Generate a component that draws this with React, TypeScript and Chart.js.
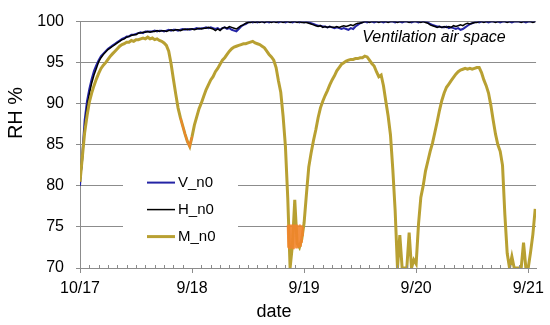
import React, { useEffect, useRef } from "react";
import { Chart, registerables } from "chart.js";

Chart.register(...registerables);

// sampling step of the series, in days (half-hourly readings)
const STEP = 1 / 48;
const X_MAX = 4.07;

const dayLabels = ["10/17", "9/18", "9/19", "9/20", "9/21"];
const yTickValues = [70, 75, 80, 85, 90, 95, 100];
const seriesNames = ["V_n0", "H_n0", "M_n0"];

const V_n0 = [
  80.0, 84.0, 88.0, 90.3, 91.8, 93.0, 94.0, 94.7, 95.3, 95.8,
  96.1, 96.4, 96.7, 96.9, 97.1, 97.3, 97.5, 97.7, 97.9, 98.0,
  98.2, 98.2, 98.4, 98.4, 98.5, 98.6, 98.7, 98.6, 98.8, 98.8,
  98.8, 98.8, 98.9, 98.8, 98.9, 98.9, 98.8, 98.9, 99.0, 98.9,
  99.0, 99.0, 98.9, 99.0, 99.1, 99.0, 99.1, 99.0, 99.1, 99.1,
  99.2, 99.1, 99.2, 99.2, 99.3, 99.2, 99.3, 99.2, 99.1, 99.2,
  99.0, 99.2, 99.3, 99.1, 99.2, 99.0, 98.9, 98.8, 99.1, 99.4,
  99.6, 99.7, 99.9, 100, 99.9, 100, 99.9, 100, 100, 99.9,
  100, 99.9, 100, 100, 100, 99.9, 100, 100, 99.9, 100,
  100, 99.9, 100, 100, 99.9, 100, 99.9, 100, 99.9, 99.8,
  99.7, 99.6, 99.5, 99.5, 99.4, 99.4, 99.3, 99.4, 99.3, 99.2,
  99.3, 99.2, 99.1, 99.2, 99.1, 99.0, 99.2, 99.1, 99.4, 99.6,
  99.8, 99.9, 100, 99.9, 100, 100, 99.9, 100, 100, 100,
  99.9, 100, 100, 100, 100, 99.9, 100, 100, 99.9, 100,
  100, 100, 99.9, 100, 100, 99.9, 100, 100, 100, 99.9,
  99.7, 99.6, 99.5, 99.4, 99.4, 99.3, 99.3, 99.4, 99.2, 99.3,
  99.2, 99.1, 99.2, 99.0, 99.1, 99.3, 99.5, 99.7, 99.8, 99.9,
  100, 99.9, 100, 100, 100, 99.9, 100, 100, 100, 100,
  99.9, 100, 100, 100, 100, 99.9, 100, 100, 100, 100,
  100, 99.9, 100, 100, 100, 100,
];

const H_n0 = [
  80.5, 83.0, 87.0, 89.5, 91.2, 92.5, 93.5, 94.3, 95.1, 95.6,
  96.0, 96.3, 96.6, 96.8, 97.0, 97.2, 97.4, 97.6, 97.8, 97.9,
  98.1, 98.2, 98.3, 98.4, 98.4, 98.6, 98.6, 98.7, 98.7, 98.8,
  98.7, 98.8, 98.8, 98.9, 98.8, 98.9, 98.9, 98.8, 98.9, 99.0,
  98.9, 99.0, 99.0, 98.9, 99.0, 99.1, 99.0, 99.1, 99.1, 99.0,
  99.1, 99.2, 99.1, 99.2, 99.2, 99.3, 99.2, 99.1, 98.9, 99.1,
  98.9, 99.2, 99.3, 99.2, 99.4, 99.3, 99.2, 99.1, 99.3, 99.5,
  99.6, 99.8, 99.9, 99.9, 100, 99.9, 100, 99.9, 100, 99.9,
  100, 100, 99.9, 100, 99.9, 100, 100, 99.9, 100, 100,
  99.9, 100, 100, 99.9, 100, 99.9, 99.9, 99.9, 99.8, 99.7,
  99.6, 99.5, 99.4, 99.5, 99.3, 99.4, 99.3, 99.4, 99.3, 99.3,
  99.4, 99.3, 99.4, 99.5, 99.4, 99.5, 99.6, 99.5, 99.7, 99.8,
  99.8, 99.9, 100, 100, 99.9, 100, 100, 100, 99.9, 100,
  100, 100, 99.9, 100, 100, 100, 99.9, 100, 100, 100,
  100, 99.9, 100, 100, 100, 100, 99.9, 100, 99.9, 99.8,
  99.6, 99.5, 99.4, 99.3, 99.4, 99.3, 99.4, 99.3, 99.4, 99.3,
  99.5, 99.4, 99.5, 99.6, 99.5, 99.7, 99.8, 99.7, 99.8, 99.9,
  99.9, 100, 100, 99.9, 100, 100, 100, 100, 99.9, 100,
  100, 100, 100, 99.9, 100, 100, 100, 100, 100, 99.9,
  100, 100, 100, 100, 99.9, 100,
];

const M_n0 = [
  80.5, 83.5, 86.5, 88.5, 90.2, 91.3, 92.2, 93.0, 93.7, 94.3,
  94.7, 95.0, 95.4, 95.8, 96.1, 96.4, 96.7, 97.0, 97.2, 97.3,
  97.5, 97.5, 97.7, 97.6, 97.8, 97.8, 97.9, 98.0, 97.9, 98.1,
  97.9, 98.0, 97.8, 97.9, 97.7, 97.6, 97.4, 97.1, 96.4, 94.9,
  93.0, 91.2, 89.5, 88.3, 87.3, 86.3, 85.4, 84.8, 86.0, 87.4,
  88.4, 89.4, 90.1, 90.9, 91.7, 92.3, 92.9, 93.3, 93.9, 94.3,
  94.8, 95.3, 95.6, 96.0, 96.4, 96.7, 96.9, 97.0, 97.1, 97.2,
  97.3, 97.3, 97.4, 97.5, 97.6, 97.4, 97.3, 97.2, 97.0, 96.8,
  96.4, 96.0, 95.7, 95.3, 94.4, 92.8, 91.4, 88.5, 84.8, 78.5,
  70.0, 72.8, 78.3, 73.0, 72.5, 73.5, 75.5, 79.0, 82.3, 84.0,
  85.5, 86.8, 88.3, 89.5, 90.3, 91.0, 91.6, 92.3, 92.9, 93.4,
  94.0, 94.4, 94.8, 95.0, 95.2, 95.3, 95.4, 95.4, 95.5, 95.5,
  95.6, 95.6, 95.8, 95.7, 95.3, 94.9, 94.6, 93.9, 93.3, 93.5,
  92.2, 90.3, 88.5, 86.2, 82.0, 77.0, 70.0, 74.0, 70.0, 70.0,
  70.0, 74.3, 70.0, 71.0, 70.5, 75.3, 78.6, 80.0, 81.8, 83.0,
  84.2, 85.2, 86.5, 87.8, 89.2, 90.4, 91.3, 92.0, 92.4, 92.8,
  93.2, 93.6, 93.9, 94.1, 94.2, 94.3, 94.2, 94.3, 94.2, 94.3,
  94.4, 94.4, 93.8, 92.9, 92.2, 91.3, 89.8, 88.0, 86.3, 85.0,
  84.2, 82.5, 76.5, 71.8, 70.0, 71.4, 70.0, 70.0, 70.0, 70.0,
  73.1, 70.0, 70.0, 71.9, 74.1, 77.2,
];

// unlabeled orange trace, seen at the 9/18 trough (same half-hour grid)
const orangeA_start = 43 / 48;
const orangeA = [88.3, 87.3, 86.3, 85.4, 84.8, 86.0];

// unlabeled orange trace, rapid readings in the 9/19 trough
const orangeB_start = 1.854;
const orangeB_step = 0.0045;
const orangeB = [
  75.2, 72.6, 75.3, 72.4, 75.0, 73.0, 75.3, 72.5, 75.1, 72.8,
  75.3, 72.4, 75.2, 72.9, 75.3, 72.6, 75.0, 72.5, 75.3, 73.0,
  75.2, 72.6, 75.1, 72.8, 75.3, 72.7, 75.0, 73.2, 75.2, 74.0, 75.0,
];

const FONT = 'Arial, "Liberation Sans", sans-serif';
const GOLD = "rgb(184,160,50)";
const BLUE = "rgb(36,36,165)";
const ORANGE = "rgba(242,132,42,0.9)";
const GRID = "rgb(140,140,140)";

const toPoints = (vals: number[], start: number, step: number) =>
  vals.map((v, i) => ({ x: start + i * step, y: v }));

const decorPlugin = {
  id: "decor",
  beforeDatasetsDraw(chart: any) {
    const { ctx, chartArea } = chart;
    ctx.save();
    ctx.fillStyle = "#fff";
    ctx.fillRect(chartArea.left + 43, chartArea.top + 140, 115, 92);
    ctx.restore();
  },
  afterDraw(chart: any) {
    const { ctx, chartArea, scales } = chart;
    const xs = scales.x;
    ctx.save();
    // minor ticks every 2 hours
    ctx.strokeStyle = GRID;
    ctx.lineWidth = 1;
    for (let k = 1; k / 12 <= X_MAX; k++) {
      if (k % 12 === 0) continue;
      const px = Math.round(xs.getPixelForValue(k / 12)) + 0.5;
      ctx.beginPath();
      ctx.moveTo(px, chartArea.bottom - 3);
      ctx.lineTo(px, chartArea.bottom + 1);
      ctx.stroke();
    }
    // legend
    const colors = [BLUE, "#000", GOLD];
    const widths = [2, 1.5, 3];
    const lx = chartArea.left + 67;
    ctx.font = `15px ${FONT}`;
    ctx.textBaseline = "middle";
    ctx.textAlign = "left";
    seriesNames.forEach((name, i) => {
      const y = chartArea.top + 161 + i * 27;
      ctx.strokeStyle = colors[i];
      ctx.lineWidth = widths[i];
      ctx.beginPath();
      ctx.moveTo(lx, y);
      ctx.lineTo(lx + 28, y);
      ctx.stroke();
      ctx.fillStyle = "#000";
      ctx.fillText(name, lx + 31, y);
    });
    // annotation
    ctx.font = `italic 16px ${FONT}`;
    ctx.textAlign = "center";
    ctx.fillText("Ventilation air space", 434, 38);
    // axis titles
    ctx.font = `18px ${FONT}`;
    ctx.fillText("date", 274, 312);
    ctx.save();
    ctx.translate(16, 113);
    ctx.rotate(-Math.PI / 2);
    ctx.font = `20px ${FONT}`;
    ctx.fillText("RH %", 0, 0);
    ctx.restore();
    ctx.restore();
  },
};

export default function App() {
  const ref = useRef<HTMLCanvasElement>(null);

  useEffect(() => {
    document.body.style.margin = "0";
    const canvas = ref.current!;
    const chart = new Chart(canvas, {
      type: "line",
      data: {
        datasets: [
          {
            label: "orangeA",
            data: toPoints(orangeA, orangeA_start, STEP),
            borderColor: ORANGE,
            borderWidth: 2,
            pointRadius: 0,
          },
          {
            label: "orangeB",
            data: toPoints(orangeB, orangeB_start, orangeB_step),
            borderColor: ORANGE,
            borderWidth: 2,
            pointRadius: 0,
          },
          {
            label: seriesNames[2],
            data: toPoints(M_n0, 0, STEP),
            borderColor: GOLD,
            borderWidth: 3,
            pointRadius: 0,
          },
          {
            label: seriesNames[1],
            data: toPoints(H_n0, 0, STEP),
            borderColor: "#000",
            borderWidth: 1.5,
            pointRadius: 0,
          },
          {
            label: seriesNames[0],
            data: toPoints(V_n0, 0, STEP),
            borderColor: BLUE,
            borderWidth: 2,
            pointRadius: 0,
          },
        ],
      },
      options: {
        responsive: false,
        animation: false,
        events: [],
        layout: { padding: { top: 12, right: 13, left: 0, bottom: 0 } },
        plugins: {
          legend: { display: false },
          tooltip: { enabled: false },
          title: { display: false },
        },
        scales: {
          x: {
            type: "linear",
            min: 0,
            max: X_MAX,
            afterBuildTicks: (s: any) => {
              s.ticks = dayLabels.map((_, i) => ({ value: i }));
            },
            afterFit: (s: any) => {
              s.height = 57;
            },
            ticks: {
              callback: (v: any) => dayLabels[Math.round(v)] ?? "",
              font: { size: 16, family: FONT },
              color: "#000",
              padding: 6,
              maxRotation: 0,
              autoSkip: false,
            },
            grid: {
              drawOnChartArea: false,
              drawTicks: true,
              tickLength: 5,
              color: GRID,
            },
            border: { display: true, color: GRID, width: 1 },
          },
          y: {
            min: 70,
            max: 100,
            afterBuildTicks: (s: any) => {
              s.ticks = yTickValues.map((v) => ({ value: v }));
            },
            afterFit: (s: any) => {
              s.width = 80;
            },
            ticks: {
              font: { size: 16, family: FONT },
              color: "#000",
              padding: 12,
            },
            grid: { color: GRID, tickLength: 4, lineWidth: 1 },
            border: { display: true, color: GRID, width: 1 },
          },
        },
      },
      plugins: [decorPlugin],
    });
    return () => chart.destroy();
  }, []);

  return (
    <div style={{ width: 550, height: 325 }}>
      <canvas ref={ref} width={550} height={325} style={{ display: "block" }} />
    </div>
  );
}
